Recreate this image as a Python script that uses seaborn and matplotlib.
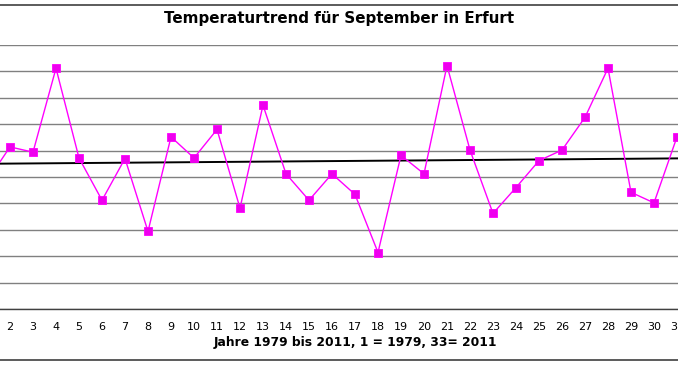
import matplotlib as mpl
import matplotlib.pyplot as plt
import numpy as np
import seaborn as sns
import pandas as pd
from matplotlib.lines import Line2D

# Jahr-Index 1..33 (1 = 1979, 33 = 2011), mittlere Septembertemperatur in °C
jahr_index = list(range(1, 34))
temperatur = [12.42, 13.07, 12.97, 14.56, 12.86, 12.06, 12.85, 11.47, 13.26, 12.86,
              13.40, 11.91, 13.86, 12.56, 12.06, 12.56, 12.17, 11.07, 12.91, 12.56,
              14.61, 13.01, 11.81, 12.30, 12.81, 13.01, 13.63, 14.56, 12.21, 12.01,
              13.26, 13.40, 12.50]
tick_labels = [str(i) for i in jahr_index]

title = "Temperaturtrend für September in Erfurt"
xtitle = "Jahre 1979 bis 2011, 1 = 1979, 33= 2011"

sns.set_style("white")
plt.rcParams['font.family'] = ['DejaVu Sans']
plt.rcParams.update({"text.color": "black", "axes.labelcolor": "black",
                     "xtick.color": "black", "ytick.color": "black"})

df = pd.DataFrame({'jahr': jahr_index, 'temp': temperatur})

# linearer Trend aus den Daten
slope, intercept = np.polyfit(df['jahr'], df['temp'], 1)
df['trend'] = intercept + slope * df['jahr']

fig = plt.figure(figsize=(6.78, 3.65), dpi=100)
# the plot area is wider than the picture (left/right are cut off as in the original)
ax = fig.add_axes([-24.5 / 678, 56 / 365, 759 / 678, 264 / 365])

ax.set_xlim(0.5, 33.5)
ax.set_ylim(10, 15)
ax.set_yticks(np.arange(10, 15.01, 0.5))
ax.yaxis.grid(True, color='#808080', linewidth=1.0)
ax.set_axisbelow(True)

sns.lineplot(data=df, x='jahr', y='trend', ax=ax, color='black', linewidth=1.4)
sns.lineplot(data=df, x='jahr', y='temp', ax=ax, color='#FF00FF', linewidth=1.0,
             marker='s', markersize=6.4, markerfacecolor='#EE00EE',
             markeredgecolor='#FF00FF', markeredgewidth=0.6)

ax.set_xticks(jahr_index)
ax.set_xticklabels(tick_labels, fontsize=8)
ax.set_xticks(np.arange(0.5, 33.6, 1), minor=True)
ax.tick_params(axis='x', which='major', length=0, pad=9, labelcolor='black')
ax.tick_params(axis='x', which='minor', length=3, color='#404040', width=0.8, direction='out')
ax.tick_params(axis='y', left=False, labelleft=False)
ax.set_xlabel(xtitle, fontsize=8.9, fontweight='bold', labelpad=3, color='black')
ax.set_ylabel('')

for s in ['top', 'left', 'right']:
    ax.spines[s].set_visible(False)
ax.spines['bottom'].set_color('#404040')
ax.spines['bottom'].set_linewidth(1.0)

fig.text(0.5, 1 - 18 / 365, title, ha='center', va='center', fontsize=10.9,
         fontweight='bold', color='black')

# chart area border lines
fig.add_artist(Line2D([0, 1], [1 - 4.5 / 365, 1 - 4.5 / 365], transform=fig.transFigure,
                      color='#404040', linewidth=1.2))
fig.add_artist(Line2D([0, 1], [1 - 360 / 365, 1 - 360 / 365], transform=fig.transFigure,
                      color='#404040', linewidth=1.2))

fig.savefig('out.png', dpi=100)
